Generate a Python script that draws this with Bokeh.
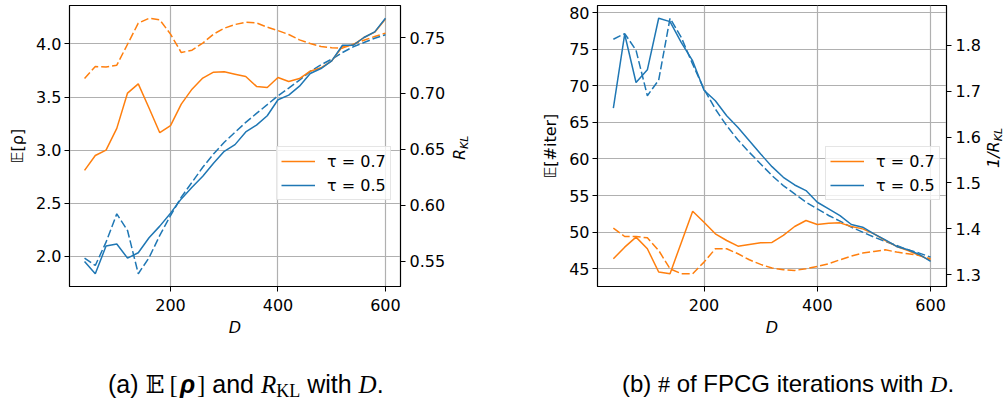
import numpy as np
from bokeh.plotting import figure
from bokeh.models import (Range1d, LinearAxis, FixedTicker, Legend, LegendItem,
                          Div, NumeralTickFormatter)
from bokeh.layouts import row, column
from bokeh.embed import file_html
from bokeh.resources import INLINE

# ---------------- data ----------------
D = [40, 60, 80, 100, 120, 140, 160, 180, 200, 220, 240, 260, 280, 300, 320,
     340, 360, 380, 400, 420, 440, 460, 480, 500, 520, 540, 560, 580, 600]

# (a) E[rho] (left axis, solid) and R_KL (right axis, dashed)
rho_07 = [2.81, 2.95, 3.00, 3.205, 3.537, 3.624, 3.396, 3.164, 3.23, 3.433, 3.574,
          3.678, 3.734, 3.737, 3.715, 3.693, 3.60, 3.59, 3.684, 3.646, 3.674,
          3.743, 3.775, 3.84, 3.975, 3.99, 4.06, 4.11, 4.235]
rho_05 = [1.953, 1.837, 2.097, 2.116, 1.984, 2.034, 2.175, 2.285, 2.407, 2.541,
          2.651, 2.754, 2.876, 2.989, 3.052, 3.171, 3.236, 3.324, 3.474, 3.518,
          3.602, 3.721, 3.768, 3.84, 3.987, 3.987, 4.06, 4.113, 4.241]
rkl_07 = [0.7134, 0.7241, 0.7236, 0.7253, 0.744, 0.7628, 0.7672, 0.7658, 0.753,
          0.7366, 0.7387, 0.745, 0.753, 0.7583, 0.7616, 0.7637, 0.7631, 0.7592,
          0.7562, 0.7527, 0.7479, 0.7447, 0.742, 0.7408, 0.7405, 0.744, 0.7476,
          0.7509, 0.7539]
rkl_05 = [0.553, 0.5464, 0.5672, 0.5925, 0.5776, 0.539, 0.5533, 0.5732, 0.591,
          0.6074, 0.6207, 0.6341, 0.646, 0.6564, 0.6653, 0.6742, 0.6822, 0.69,
          0.698, 0.7048, 0.712, 0.7197, 0.7256, 0.7307, 0.7366, 0.7417, 0.7455,
          0.7494, 0.7524]

# (b) E[#iter] (left axis, solid) and 1/R_KL (right axis, dashed)
iter_07 = [46.36, 47.95, 49.32, 47.73, 44.55, 44.32, 48.6, 52.86, 51.36, 49.77,
           48.86, 48.09, 48.32, 48.55, 48.59, 49.55, 50.77, 51.59, 51.05, 51.23,
           51.27, 50.77, 50.45, 49.77, 48.86, 48.05, 47.5, 46.82, 46.14]
iter_05 = [66.95, 77.05, 70.45, 72.18, 79.23, 78.77, 75.9, 73.4, 69.4, 67.95,
           65.9, 64.3, 62.5, 60.68, 58.95, 57.5, 56.45, 55.68, 54.09, 53.18,
           52.27, 51.05, 50.68, 49.77, 48.95, 48.05, 47.6, 46.95, 46.0]
inv_rkl_07 = [1.4014, 1.3833, 1.3833, 1.3804, 1.3529, 1.313, 1.3022, 1.3022,
              1.3275, 1.3565, 1.3565, 1.3457, 1.3326, 1.3225, 1.3145, 1.3109,
              1.3094, 1.313, 1.3181, 1.3239, 1.3326, 1.3406, 1.3471, 1.3507,
              1.3543, 1.3493, 1.3457, 1.342, 1.3348]
inv_rkl_05 = [1.813, 1.8254, 1.789, 1.69, 1.724, 1.8587, 1.8167, 1.7587, 1.7043,
              1.661, 1.6246, 1.5935, 1.5667, 1.5413, 1.516, 1.4942, 1.476, 1.458,
              1.4435, 1.429, 1.4167, 1.4036, 1.3928, 1.3819, 1.3725, 1.3638,
              1.3543, 1.3471, 1.3384]

x_ticks = [200, 400, 600]
legend_labels = ["τ = 0.7", "τ = 0.5"]

ORANGE = "#ff7f0e"
BLUE = "#1f77b4"
FONT = "DejaVu Sans"


def padded(*arrays):
    lo = min(min(a) for a in arrays)
    hi = max(max(a) for a in arrays)
    pad = 0.05 * (hi - lo)
    return lo - pad, hi + pad


def style_axis(ax, ticks, fmt):
    ax.ticker = FixedTicker(ticks=ticks)
    ax.formatter = NumeralTickFormatter(format=fmt)
    ax.major_label_text_font = FONT
    ax.major_label_text_font_size = "16px"
    ax.major_label_text_color = "black"
    ax.major_tick_out = 5
    ax.major_tick_in = 0
    ax.minor_tick_out = 0
    ax.minor_tick_in = 0
    ax.major_tick_line_color = "black"
    ax.axis_line_color = "black"
    ax.axis_label_text_font = FONT
    ax.axis_label_text_font_size = "16px"
    ax.axis_label_text_font_style = "normal"
    ax.axis_label_text_color = "black"


def make_panel(width, left, right, ylabel, lticks, lfmt, rticks, rfmt,
               s07, s05, d07, d05, legend_x):
    p = figure(width=width, height=340, x_range=Range1d(*padded(D)),
               y_range=Range1d(*padded(s07, s05)),
               output_backend="svg", toolbar_location=None,
               min_border_left=left, min_border_right=right,
               min_border_top=5, min_border_bottom=54, margin=0)
    p.extra_y_ranges = {"r": Range1d(*padded(d07, d05))}
    p.background_fill_color = "white"
    p.border_fill_color = "white"
    p.outline_line_color = "black"
    p.outline_line_width = 1.2

    style_axis(p.xaxis[0], x_ticks, "0")
    p.xaxis[0].major_label_standoff = 7
    p.xaxis[0].axis_label = "D"
    p.xaxis[0].axis_label_text_font_style = "italic"
    p.xaxis[0].axis_label_standoff = 4

    style_axis(p.yaxis[0], lticks, lfmt)
    p.yaxis[0].major_label_standoff = 3
    p.yaxis[0].axis_label = ylabel
    p.yaxis[0].axis_label_standoff = 6

    rax = LinearAxis(y_range_name="r")
    style_axis(rax, rticks, rfmt)
    rax.major_label_standoff = 4
    p.add_layout(rax, "right")

    p.xgrid.ticker = FixedTicker(ticks=x_ticks)
    p.ygrid.ticker = FixedTicker(ticks=lticks)
    for g in (p.xgrid[0], p.ygrid[0]):
        g.grid_line_color = "#b0b0b0"
        g.grid_line_width = 1.2

    p.line(D, d07, color=ORANGE, line_width=1.5, line_dash="8 3", y_range_name="r")
    p.line(D, d05, color=BLUE, line_width=1.5, line_dash="8 3", y_range_name="r")
    r07 = p.line(D, s07, color=ORANGE, line_width=1.5)
    r05 = p.line(D, s05, color=BLUE, line_width=1.5)

    leg = Legend(items=[LegendItem(label=legend_labels[0], renderers=[r07]),
                        LegendItem(label=legend_labels[1], renderers=[r05])],
                 location=(legend_x, 86))
    leg.margin = 0
    leg.padding = 4
    leg.spacing = 4
    leg.label_height = 20
    leg.glyph_height = 20
    leg.glyph_width = 34
    leg.label_standoff = 12
    leg.label_text_font = FONT
    leg.label_text_font_size = "16px"
    leg.label_text_color = "black"
    leg.border_line_color = "#cccccc"
    leg.border_line_width = 1
    leg.background_fill_alpha = 0.8
    p.add_layout(leg)
    return p


p1 = make_panel(450, 69, 50, "𝔼[ρ]",
                [2.0, 2.5, 3.0, 3.5, 4.0], "0.0",
                [0.55, 0.60, 0.65, 0.70, 0.75], "0.00",
                rho_07, rho_05, rkl_07, rkl_05, 207)
p2 = make_panel(484, 97, 38, "𝔼[#iter]",
                [45, 50, 55, 60, 65, 70, 75, 80], "0",
                [1.3, 1.4, 1.5, 1.6, 1.7, 1.8], "0.0",
                iter_07, iter_05, inv_rkl_07, inv_rkl_05, 228)


def rotated_label(html, left, bottom, width):
    txt = ('<div style="padding-top:%dpx;padding-left:%dpx;">'
           '<div style="width:max-content;transform-origin:0 0;transform:rotate(-90deg);'
           'white-space:nowrap;font-family:\'DejaVu Sans\';font-size:16px;line-height:19px;'
           'font-style:italic;color:black;">%s</div></div>') % (bottom, left, html)
    return Div(text=txt, width=width, height=340, margin=0)


SUB = '<span style="font-size:11px;position:relative;top:3px;">KL</span>'
lab1 = rotated_label('R' + SUB, 0, 160, 50)
lab2 = rotated_label('1/R' + SUB, 0, 168, 19)

CAP = ("font-family:'Liberation Sans',Arial,sans-serif;font-size:24px;"
       "line-height:28px;color:black;white-space:nowrap;")
SERIF = "font-family:'Liberation Serif','DejaVu Serif',serif;"
cap_a = ('<div style="%sfont-size:25px;padding-top:30px;padding-left:108px;">(a) '
         '<span style="font-family:\'DejaVu Serif\',serif;margin-right:5px;">𝔼</span>'
         '<span style="%smargin-right:2px;">[</span><b><i>ρ</i></b>'
         '<span style="%smargin-left:2px;">]</span> and '
         '<i style="%s">R</i><span style="%sfont-size:18px;position:relative;top:4px;">KL</span>'
         ' with <i style="%s">D</i>.</div>') % (CAP, SERIF, SERIF, SERIF, SERIF, SERIF)
cap_b = ('<div style="%spadding-top:30px;padding-left:122px;">(b) '
         '<span style="%s">#</span> of FPCG iterations with '
         '<i style="%s">D</i>.</div>') % (CAP, SERIF, SERIF)
d1 = Div(text=cap_a, width=500, height=60, margin=0)
d2 = Div(text=cap_b, width=503, height=60, margin=0)

root = column(row(p1, lab1, p2, lab2, margin=0), row(d1, d2, margin=0), margin=0)

open("out.html", "w").write(file_html(root, INLINE))
